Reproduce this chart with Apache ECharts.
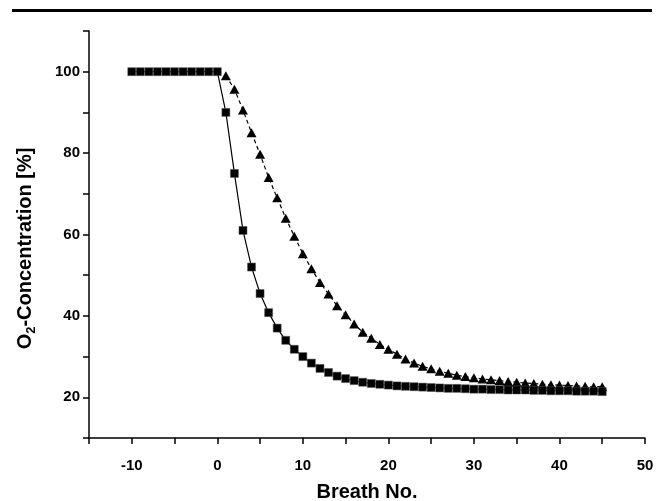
<head>
  <script src="https://cdn.jsdelivr.net/npm/echarts@6/dist/echarts.min.js"></script>
  <style>
    html, body { margin: 0; padding: 0; background: #fff; }
    #chart { width: 664px; height: 501px; }
  </style>
</head>
<body>
  <div id="chart"></div>
  <script>
    // Squares: breath -10 .. 45
    const breathSquares = [];
    for (let b = -10; b <= 45; b++) breathSquares.push(b);
    const o2Squares = [
      100, 100, 100, 100, 100, 100, 100, 100, 100, 100, 100,
      90, 75, 61, 52, 45.5, 40.8, 37, 34, 31.8, 30,
      28.4, 27.1, 26.1, 25.2, 24.6, 24.1, 23.7, 23.4, 23.2, 23.0,
      22.8, 22.7, 22.6, 22.5, 22.4, 22.3, 22.2, 22.2, 22.1, 22.0,
      22.0, 21.9, 21.9, 21.8, 21.8, 21.8, 21.7, 21.7, 21.6, 21.6,
      21.6, 21.5, 21.5, 21.5, 21.4
    ];

    // Triangles: breath 1 .. 45
    const breathTriangles = [];
    for (let b = 1; b <= 45; b++) breathTriangles.push(b);
    const o2Triangles = [
      99, 95.7, 90.6, 85, 79.7, 74, 69, 64, 59.6, 55.3,
      51.6, 48.2, 45.4, 42.5, 40.3, 38, 36, 34.5, 33, 31.8,
      30.6, 29.4, 28.4, 27.6, 27, 26.4, 25.9, 25.4, 25.1, 24.8,
      24.5, 24.3, 24.1, 23.9, 23.7, 23.5, 23.4, 23.2, 23.1, 23.0,
      22.9, 22.8, 22.7, 22.6, 22.6
    ];

    const font = 'Liberation Sans, Arial, sans-serif';
    const chart = echarts.init(document.getElementById('chart'), null, { renderer: 'canvas' });

    const option = {
      animation: false,
      backgroundColor: '#fff',
      graphic: [
        { type: 'rect', shape: { x: 12, y: 9, width: 640, height: 3 }, style: { fill: '#000' } }
      ],
      grid: { left: 89, right: 19, top: 31, bottom: 63, containLabel: false, outerBoundsMode: 'none' },
      xAxis: {
        type: 'value',
        min: -15, max: 50, interval: 5,
        name: 'Breath No.',
        nameLocation: 'middle',
        nameGap: 37,
        nameMoveOverlap: false,
        nameTextStyle: { fontFamily: font, fontWeight: 'bold', fontSize: 20, color: '#000' },
        axisLine: { onZero: false, lineStyle: { color: '#000', width: 1.5 } },
        axisTick: { inside: false, length: 6, lineStyle: { color: '#000', width: 1.5 } },
        axisLabel: {
          fontFamily: font, fontWeight: 'bold', fontSize: 15, color: '#000', margin: 15,
          formatter: v => (v % 10 === 0 && v > -15) ? String(v) : ''
        },
        splitLine: { show: false }
      },
      yAxis: {
        type: 'value',
        min: 10, max: 110, interval: 10,
        name: '{a|O}{s|2}{a|-Concentration [%]}',
        nameLocation: 'middle',
        nameGap: 46,
        nameRotate: 90,
        nameMoveOverlap: false,
        nameTextStyle: {
          padding: [0, 28, 0, 0],
          rich: {
            a: { fontFamily: font, fontWeight: 'bold', fontSize: 20, color: '#000' },
            s: { fontFamily: font, fontWeight: 'bold', fontSize: 13, color: '#000', verticalAlign: 'bottom', padding: [12, 0, 0, 0] }
          }
        },
        axisLine: { show: true, onZero: false, lineStyle: { color: '#000', width: 1.5 } },
        axisTick: { show: true, inside: false, length: 6, lineStyle: { color: '#000', width: 1.5 } },
        axisLabel: {
          fontFamily: font, fontWeight: 'bold', fontSize: 15, color: '#000', margin: 9,
          formatter: v => (v % 20 === 0 && v >= 20 && v <= 100) ? String(v) : ''
        },
        splitLine: { show: false }
      },
      series: [
        {
          type: 'line',
          data: breathTriangles.map((b, i) => [b, o2Triangles[i]]),
          symbol: 'triangle',
          symbolSize: [10, 9],
          itemStyle: { color: '#000' },
          lineStyle: { color: '#000', width: 1.2, type: [4, 3] },
          z: 2
        },
        {
          type: 'line',
          data: breathSquares.map((b, i) => [b, o2Squares[i]]),
          symbol: 'rect',
          symbolSize: 8,
          itemStyle: { color: '#000', borderColor: '#555', borderWidth: 0.5 },
          lineStyle: { color: '#000', width: 1.2 },
          z: 3
        }
      ]
    };

    chart.setOption(option);
  </script>
</body>
